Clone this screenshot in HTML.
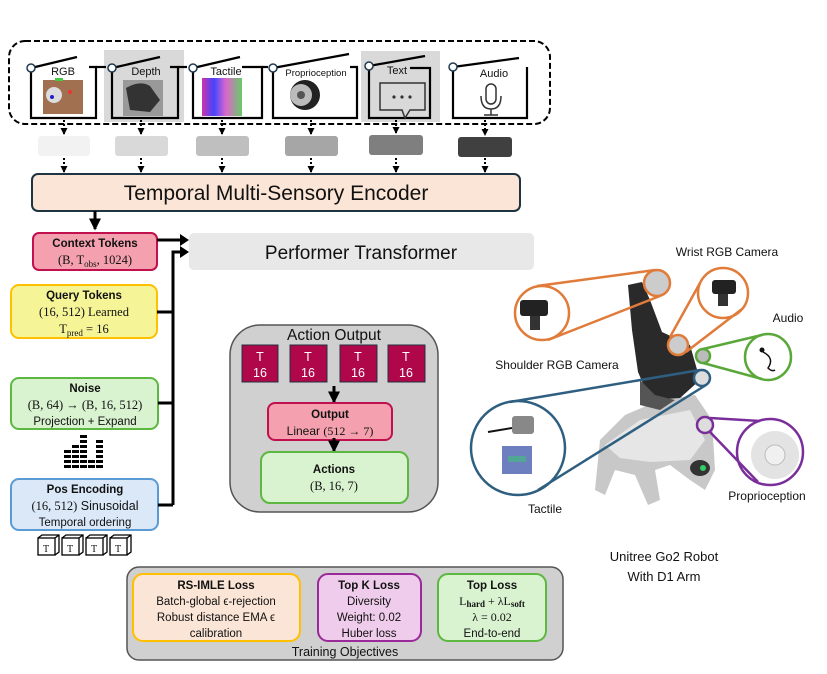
<!DOCTYPE html>
<html><head><meta charset="utf-8"><style>
html,body{margin:0;padding:0;background:#fff;}
svg{display:block;}
text{font-family:"Liberation Sans",sans-serif;fill:#111;}
.s{font-family:"Liberation Serif",serif;}
.b{font-weight:bold;}
</style></head><body>
<svg width="827" height="674" viewBox="0 0 827 674" xmlns="http://www.w3.org/2000/svg">
<defs>
<marker id="ahs" markerWidth="4" markerHeight="4" refX="3.5" refY="2" orient="auto" markerUnits="strokeWidth"><path d="M0,0 L4,2 L0,4 z" fill="#000"/></marker>
<marker id="ahd" markerWidth="3.5" markerHeight="3.5" refX="3" refY="1.75" orient="auto" markerUnits="strokeWidth"><path d="M0,0 L3.5,1.75 L0,3.5 z" fill="#000"/></marker>
</defs>

<rect x="104" y="50" width="80" height="72" fill="#d9d9d9"/>
<rect x="361" y="51" width="79" height="71" fill="#d9d9d9"/>
<rect x="9" y="41" width="541" height="83" rx="16" fill="none" stroke="#000" stroke-width="2" stroke-dasharray="6,3"/>

<g stroke="#000" stroke-width="2.2" fill="none">
 <path d="M31,70 V118 H96 V67 H89"/><path d="M31,68 L77,57"/>
 <path d="M96,67 H106"/>
 <path d="M112,70 V118 H178 V67 H170"/><path d="M112,68 L160,57"/>
 <path d="M178,67 H187"/>
 <path d="M193,70 V118 H262 V67 H242"/><path d="M193,68 L240,57"/>
 <path d="M262,67 H268"/>
 <path d="M273,70 V118 H357 V67 H350"/><path d="M273,68 L349,54"/>
 <path d="M369,68 V118 H430 V68 H410"/><path d="M369,66 L425,56"/>
 <path d="M453,69 V118 H527 V67"/><path d="M453,67 L519,58"/>
</g>
<g fill="#fff" stroke="#1f3a50" stroke-width="1.5">
 <circle cx="31" cy="68" r="4"/><circle cx="112" cy="68" r="4"/><circle cx="193" cy="68" r="4"/>
 <circle cx="273" cy="68" r="4"/><circle cx="369" cy="66" r="4"/><circle cx="453" cy="67" r="4"/>
</g>
<text x="63" y="75" font-size="11" text-anchor="middle">RGB</text>
<text x="146" y="75" font-size="11" text-anchor="middle" fill="#333">Depth</text>
<text x="226" y="75" font-size="11" text-anchor="middle">Tactile</text>
<text x="316" y="76" font-size="9.5" text-anchor="middle">Proprioception</text>
<text x="397" y="74" font-size="11" text-anchor="middle">Text</text>
<text x="494" y="77" font-size="11" text-anchor="middle">Audio</text>
<rect x="43" y="80" width="40" height="34" fill="#a07050"/>
<circle cx="54" cy="95" r="8" fill="#ddd"/><circle cx="52" cy="97" r="2" fill="#22c"/><circle cx="70" cy="92" r="2" fill="#e33"/><rect x="55" y="78" width="8" height="3" fill="#4c4"/>
<rect x="123" y="80" width="40" height="36" fill="#999"/>
<path d="M126,88 Q140,80 150,86 L160,100 L150,112 L130,110 Z" fill="#333"/>
<defs><linearGradient id="tg" x1="0" x2="1"><stop offset="0" stop-color="#c3a"/><stop offset=".3" stop-color="#44f"/><stop offset=".6" stop-color="#d6c"/><stop offset="1" stop-color="#6c6"/></linearGradient></defs>
<rect x="202" y="78" width="40" height="38" fill="url(#tg)"/>
<circle cx="305" cy="95" r="15" fill="#222"/><circle cx="301" cy="95" r="11" fill="#bbb"/><circle cx="301" cy="95" r="4" fill="#555"/>
<path d="M380,83 H425 V110 H410 L405,118 L402,110 H380 Z" fill="none" stroke="#333" stroke-width="1.5"/>
<circle cx="394" cy="97" r="1.6" fill="#333"/><circle cx="402" cy="97" r="1.6" fill="#333"/><circle cx="410" cy="97" r="1.6" fill="#333"/>
<rect x="486" y="84" width="10" height="20" rx="5" fill="none" stroke="#333" stroke-width="1.5"/>
<path d="M481,96 Q481,109 491,109 Q501,109 501,96 M491,109 V115 M484,115 H498" fill="none" stroke="#333" stroke-width="1.5"/>

<rect x="38" y="136" width="52" height="20" rx="3" fill="#f2f2f2"/>
<rect x="115" y="136" width="53" height="20" rx="3" fill="#d9d9d9"/>
<rect x="196" y="136" width="53" height="20" rx="3" fill="#bfbfbf"/>
<rect x="285" y="136" width="53" height="20" rx="3" fill="#a6a6a6"/>
<rect x="369" y="135" width="54" height="20" rx="3" fill="#7f7f7f"/>
<rect x="458" y="137" width="54" height="20" rx="3" fill="#404040"/>
<g stroke="#000" stroke-width="2" stroke-dasharray="2,2" fill="none" marker-end="url(#ahd)">
 <path d="M64,120 V134"/><path d="M141,120 V134"/><path d="M222,120 V134"/><path d="M311,120 V134"/><path d="M396,120 V133"/><path d="M485,120 V135"/>
 <path d="M64,158 V172"/><path d="M141,158 V172"/><path d="M222,158 V172"/><path d="M311,158 V172"/><path d="M396,158 V172"/><path d="M485,158 V172"/>
</g>

<rect x="32" y="174" width="488" height="37" rx="6" fill="#fbe5d6" stroke="#1f3340" stroke-width="2"/>
<text x="276" y="200" font-size="21" text-anchor="middle">Temporal Multi-Sensory Encoder</text>
<path d="M95,211 V229" stroke="#000" stroke-width="3" marker-end="url(#ahs)"/>

<rect x="189" y="233" width="345" height="37" rx="5" fill="#e8e8e8"/>
<text x="361" y="259" font-size="19" text-anchor="middle">Performer Transformer</text>

<rect x="33" y="233" width="124" height="37" rx="6" fill="#f4a0ae" stroke="#c0104d" stroke-width="2"/>
<text x="95" y="247" font-size="11.5" text-anchor="middle" class="b">Context Tokens</text>
<text x="95" y="264" font-size="12.5" text-anchor="middle" class="s">(B, T<tspan font-size="9" dy="3">obs</tspan><tspan dy="-3">, 1024)</tspan></text>

<rect x="11" y="285" width="146" height="53" rx="8" fill="#f5f598" stroke="#ffc000" stroke-width="2"/>
<text x="84" y="299" font-size="11.5" text-anchor="middle" class="b">Query Tokens</text>
<text x="84" y="316" font-size="12.5" text-anchor="middle" class="s">(16, 512) Learned</text>
<text x="84" y="333" font-size="12.5" text-anchor="middle" class="s">T<tspan font-size="9" dy="3">pred</tspan><tspan dy="-3"> = 16</tspan></text>

<rect x="11" y="378" width="147" height="51" rx="8" fill="#d9f2d0" stroke="#5cb840" stroke-width="2"/>
<text x="85" y="392" font-size="11.5" text-anchor="middle" class="b">Noise</text>
<text x="85" y="409" font-size="12.5" text-anchor="middle" class="s">(B, 64) → (B, 16, 512)</text>
<text x="85" y="425" font-size="11.5" text-anchor="middle">Projection + Expand</text>

<g fill="#000">
 <rect x="64" y="450" width="7" height="3"/><rect x="64" y="455" width="7" height="3"/><rect x="64" y="460" width="7" height="3"/><rect x="64" y="465" width="7" height="3"/>
 <rect x="72" y="445" width="7" height="3"/><rect x="72" y="450" width="7" height="3"/><rect x="72" y="455" width="7" height="3"/><rect x="72" y="460" width="7" height="3"/><rect x="72" y="465" width="7" height="3"/>
 <rect x="80" y="435" width="7" height="3"/><rect x="80" y="440" width="7" height="3"/><rect x="80" y="445" width="7" height="3"/><rect x="80" y="450" width="7" height="3"/><rect x="80" y="455" width="7" height="3"/><rect x="80" y="460" width="7" height="3"/><rect x="80" y="465" width="7" height="3"/>
 <rect x="88" y="460" width="7" height="3"/><rect x="88" y="465" width="7" height="3"/>
 <rect x="96" y="440" width="7" height="3"/><rect x="96" y="445" width="7" height="3"/><rect x="96" y="450" width="7" height="3"/><rect x="96" y="455" width="7" height="3"/><rect x="96" y="460" width="7" height="3"/><rect x="96" y="465" width="7" height="3"/>
</g>

<rect x="11" y="479" width="147" height="51" rx="8" fill="#dae8f8" stroke="#5b9bd5" stroke-width="2"/>
<text x="85" y="493" font-size="11.5" text-anchor="middle" class="b">Pos Encoding</text>
<text x="85" y="510" font-size="12.5" text-anchor="middle"><tspan class="s">(16, 512)</tspan> Sinusoidal</text>
<text x="85" y="526" font-size="11.5" text-anchor="middle">Temporal ordering</text>

<g fill="#fff" stroke="#000" stroke-width="1.3">
 <rect x="38" y="538" width="17" height="17"/><rect x="62" y="538" width="17" height="17"/><rect x="86" y="538" width="17" height="17"/><rect x="110" y="538" width="17" height="17"/>
 <path d="M38,538 l4,-3 h17 v17 l-4,3 M55,538 l4,-3 M62,538 l4,-3 h17 v17 l-4,3 M79,538 l4,-3 M86,538 l4,-3 h17 v17 l-4,3 M103,538 l4,-3 M110,538 l4,-3 h17 v17 l-4,3 M127,538 l4,-3" fill="none"/>
</g>
<text x="46" y="552" font-size="10" text-anchor="middle" class="s">T</text><text x="70" y="552" font-size="10" text-anchor="middle" class="s">T</text><text x="94" y="552" font-size="10" text-anchor="middle" class="s">T</text><text x="118" y="552" font-size="10" text-anchor="middle" class="s">T</text>

<g stroke="#000" stroke-width="3" fill="none">
 <path d="M157,312 H173 M158,403 H173 M158,505 H173 M173,505 V252 H182"/>
 <path d="M157,240 H182"/>
</g>
<path d="M180,234 L189,240 L180,246 z M180,246 L189,252 L180,258 z" fill="#000"/>

<rect x="230" y="325" width="208" height="187" rx="30" fill="#d0d0d0" stroke="#555" stroke-width="1.5"/>
<text x="334" y="340" font-size="15.5" text-anchor="middle">Action Output</text>
<g fill="#b0064a" stroke="#1f3340" stroke-width="1">
 <rect x="242" y="345" width="36" height="37"/><rect x="290" y="345" width="37" height="37"/><rect x="340" y="345" width="37" height="37"/><rect x="388" y="345" width="37" height="37"/>
</g>
<g font-size="12.5" text-anchor="middle">
 <text x="260" y="361" style="fill:#fff">T</text><text x="260" y="377" style="fill:#fff">16</text>
 <text x="308" y="361" style="fill:#fff">T</text><text x="308" y="377" style="fill:#fff">16</text>
 <text x="358" y="361" style="fill:#fff">T</text><text x="358" y="377" style="fill:#fff">16</text>
 <text x="406" y="361" style="fill:#fff">T</text><text x="406" y="377" style="fill:#fff">16</text>
</g>
<path d="M334,386 V402" stroke="#000" stroke-width="3" marker-end="url(#ahs)"/>
<rect x="268" y="403" width="124" height="37" rx="7" fill="#f4a0ae" stroke="#c0104d" stroke-width="2"/>
<text x="330" y="418" font-size="11.5" text-anchor="middle" class="b">Output</text>
<text x="330" y="435" font-size="12" text-anchor="middle">Linear <tspan class="s">(512 → 7)</tspan></text>
<path d="M334,438 V451" stroke="#000" stroke-width="3" marker-end="url(#ahs)"/>
<rect x="261" y="452" width="147" height="51" rx="9" fill="#d9f2d0" stroke="#5cb840" stroke-width="2"/>
<text x="334" y="473" font-size="11.5" text-anchor="middle" class="b">Actions</text>
<text x="334" y="490" font-size="12.5" text-anchor="middle" class="s">(B, 16, 7)</text>

<rect x="127" y="567" width="436" height="93" rx="12" fill="#d0d0d0" stroke="#555" stroke-width="1.5"/>
<rect x="133" y="574" width="167" height="67" rx="10" fill="#fbe5d6" stroke="#ffc000" stroke-width="2"/>
<text x="216" y="589" font-size="11.5" text-anchor="middle" class="b">RS-IMLE Loss</text>
<text x="216" y="605" font-size="11.5" text-anchor="middle">Batch-global ϵ-rejection</text>
<text x="216" y="621" font-size="11.5" text-anchor="middle">Robust distance EMA  ϵ</text>
<text x="216" y="637" font-size="11.5" text-anchor="middle">calibration</text>
<rect x="318" y="574" width="103" height="67" rx="10" fill="#f0ccec" stroke="#9a2a9a" stroke-width="2"/>
<text x="369" y="589" font-size="11.5" text-anchor="middle" class="b">Top K Loss</text>
<text x="369" y="605" font-size="11.5" text-anchor="middle">Diversity</text>
<text x="369" y="621" font-size="11.5" text-anchor="middle">Weight: 0.02</text>
<text x="369" y="637" font-size="11.5" text-anchor="middle">Huber loss</text>
<rect x="438" y="574" width="108" height="67" rx="10" fill="#d9f2d0" stroke="#5cb840" stroke-width="2"/>
<text x="492" y="589" font-size="11.5" text-anchor="middle" class="b">Top  Loss</text>
<text x="492" y="605" font-size="12" text-anchor="middle" class="s">L<tspan font-size="9" dy="2" font-weight="bold">hard</tspan><tspan dy="-2"> + λL</tspan><tspan font-size="9" dy="2" font-weight="bold">soft</tspan></text>
<text x="492" y="621" font-size="12" text-anchor="middle" class="s">λ = 0.02</text>
<text x="492" y="637" font-size="11.5" text-anchor="middle">End-to-end</text>
<text x="345" y="656" font-size="12.5" text-anchor="middle" fill="#222">Training Objectives</text>

<!-- robot -->
<g>
 <path d="M600,440 L625,415 L660,400 L695,395 L712,420 L715,470 L705,490 L690,480 L670,465 L655,470 L660,500 L648,505 L635,475 L615,470 L605,495 L595,490 Z" fill="#c8c8c8"/>
 <path d="M605,445 L640,420 L690,410 L705,440 L690,460 L650,462 L620,458 Z" fill="#e6e6e6"/>
 <path d="M628,285 L642,282 L650,300 L662,332 L690,345 L700,380 L680,398 L650,400 L638,372 L632,330 Z" fill="#2a2a2a"/>
 <path d="M640,380 L655,395 L675,400 L660,410 L640,405 Z" fill="#555"/>
 <ellipse cx="700" cy="468" rx="10" ry="8" fill="#333"/><circle cx="703" cy="468" r="3" fill="#3c6"/>
</g>
<g fill="none" stroke-width="2.5">
 <g stroke="#e07b39">
  <circle cx="542" cy="313" r="27" fill="#fff"/><circle cx="657" cy="283" r="13" fill="#ccc"/>
  <path d="M537,286 L655,270 M548,340 L660,296"/>
  <circle cx="723" cy="293" r="25" fill="#fff"/><circle cx="678" cy="345" r="10" fill="#ccc"/>
  <path d="M700,283 L670,337 M742,309 L686,352"/>
 </g>
 <g stroke="#5aa83a">
  <circle cx="768" cy="357" r="23" fill="#fff"/><circle cx="703" cy="356" r="7" fill="#bbb"/>
  <path d="M703,349 L762,335 M703,363 L762,379"/>
 </g>
 <g stroke="#2f5f80">
  <circle cx="518" cy="448" r="47" fill="#fff"/><circle cx="702" cy="378" r="8" fill="#ddd"/>
  <path d="M510,402 L700,370 M538,490 L706,385"/>
 </g>
 <g stroke="#7a2e9a">
  <circle cx="770" cy="452" r="33" fill="#fff"/><circle cx="705" cy="425" r="8" fill="#ddd"/>
  <path d="M710,418 L760,421 M710,432 L758,482"/>
 </g>
</g>
<rect x="520" y="300" width="28" height="16" rx="3" fill="#222"/><rect x="530" y="316" width="10" height="14" fill="#333"/>
<rect x="712" y="280" width="24" height="14" rx="3" fill="#222"/><rect x="718" y="294" width="10" height="12" fill="#333"/>
<circle cx="762" cy="350" r="2.5" fill="#111"/><path d="M763,352 Q775,358 768,368 Q772,372 775,370" stroke="#111" stroke-width="1.5" fill="none"/>
<rect x="512" y="416" width="22" height="18" rx="3" fill="#888"/><path d="M488,432 L512,428" stroke="#111" stroke-width="2"/>
<rect x="502" y="446" width="30" height="28" fill="#4a5fb0" opacity="0.8"/><rect x="508" y="456" width="18" height="6" fill="#4ab08a" opacity="0.8"/>
<circle cx="775" cy="455" r="24" fill="#e3e3e3"/><circle cx="775" cy="455" r="10" fill="#f0f0f0" stroke="#bbb"/>

<g font-size="12">
 <text x="727" y="256" text-anchor="middle">Wrist RGB Camera</text>
 <text x="788" y="322" text-anchor="middle">Audio</text>
 <text x="557" y="369" text-anchor="middle">Shoulder RGB Camera</text>
 <text x="545" y="513" text-anchor="middle">Tactile</text>
 <text x="767" y="500" text-anchor="middle">Proprioception</text>
 <text x="664" y="561" text-anchor="middle" font-size="13">Unitree Go2 Robot</text>
 <text x="664" y="581" text-anchor="middle" font-size="13">With D1 Arm</text>
</g>
</svg>
</body></html>
